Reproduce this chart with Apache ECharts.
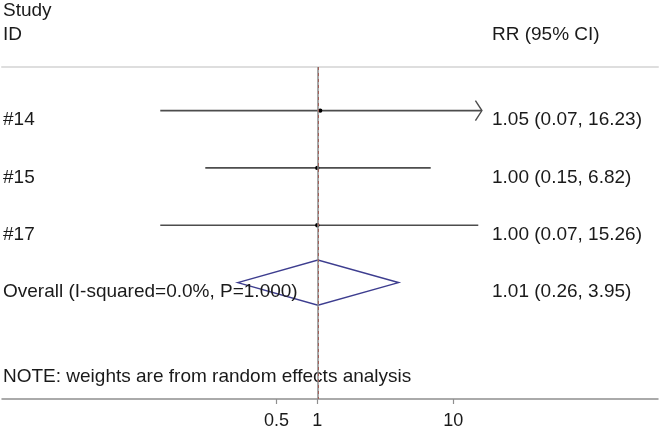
<!DOCTYPE html>
<html><head><meta charset="utf-8">
<script src="https://cdn.jsdelivr.net/npm/echarts@6/dist/echarts.min.js"></script>
<style>html,body{margin:0;padding:0;background:#fff}#c{width:660px;height:432px}</style>
</head><body><div id="c"></div>
<script>
// ---- data ----
const studyIds = ['#14', '#15', '#17'];
const rr = [1.05, 1.00, 1.00];
const ciLow = [0.07, 0.15, 0.07];
const ciHigh = [16.23, 6.82, 15.26];
const overallLabel = 'Overall (I-squared=0.0%, P=1.000)';
const overallRR = [1.01];
const overallLow = [0.26];
const overallHigh = [3.95];
const xTicks = [0.5, 1, 10];
const nullValue = 1;
const arrowLimit = 16;
const headerLeft = ['Study', 'ID'];
const headerRight = 'RR (95% CI)';
const note = 'NOTE: weights are from random effects analysis';

// ---- layout / style ----
const FONT = 'Liberation Sans, Arial, sans-serif';
const FS = 19;
const TXT = '#1a1a1a';
const LEFT_COL = 3, RIGHT_COL = 492, LABEL_DY = 9.5;
const fmt = v => v.toFixed(2);

const chart = echarts.init(document.getElementById('c'), null, {renderer: 'canvas'});

const studyRows = studyIds.map((id, i) => [i + 1, rr[i], ciLow[i], ciHigh[i]]);
const overallRow = [[studyIds.length + 1, overallRR[0], overallLow[0], overallHigh[0]]];
const labelRows = studyIds.map((id, i) => [i + 1, id, `${fmt(rr[i])} (${fmt(ciLow[i])}, ${fmt(ciHigh[i])})`])
  .concat([[studyIds.length + 1, overallLabel, `${fmt(overallRR[0])} (${fmt(overallLow[0])}, ${fmt(overallHigh[0])})`]]);

const xMin = 0.0048, xMax = 320;

chart.setOption({
  animation: false,
  grid: {left: 2, right: 2, top: 67, bottom: 33},
  xAxis: [{
    type: 'log', logBase: 10, min: xMin, max: xMax,
    axisLine: {show: true, lineStyle: {color: '#8f8f8f', width: 1.5}},
    axisTick: {show: true, customValues: xTicks, length: 5, lineStyle: {color: '#8f8f8f', width: 1.2}},
    axisLabel: {show: true, customValues: xTicks, margin: 13, fontFamily: FONT, fontSize: 18, color: TXT,
      formatter: v => String(+(+v).toPrecision(3))},
    splitLine: {show: false}, minorTick: {show: false}, minorSplitLine: {show: false}
  }, {
    type: 'log', logBase: 10, min: xMin, max: xMax, position: 'top',
    axisLine: {show: true, lineStyle: {color: '#dedede', width: 2}},
    axisTick: {show: false}, axisLabel: {show: false}, splitLine: {show: false}
  }],
  yAxis: {type: 'value', inverse: true, min: 0.24, max: 6.03, show: false},
  graphic: [
    {type: 'text', x: LEFT_COL, y: 11, style: {text: headerLeft[0], font: `${FS}px ${FONT}`, fill: TXT, verticalAlign: 'middle'}},
    {type: 'text', x: LEFT_COL, y: 35, style: {text: headerLeft[1], font: `${FS}px ${FONT}`, fill: TXT, verticalAlign: 'middle'}},
    {type: 'text', x: RIGHT_COL, y: 35, style: {text: headerRight, font: `${FS}px ${FONT}`, fill: TXT, verticalAlign: 'middle'}},
    {type: 'text', x: LEFT_COL, y: 377, style: {text: note, font: `${FS}px ${FONT}`, fill: TXT, verticalAlign: 'middle'}}
  ],
  series: [{
    type: 'custom', name: 'studies', data: studyRows,
    encode: {x: [1, 2, 3], y: 0},
    renderItem: (params, api) => {
      const row = api.value(0), est = api.value(1), lo = api.value(2), hi = api.value(3);
      const pLo = api.coord([lo, row]), pHi = api.coord([hi, row]), pE = api.coord([est, row]);
      const children = [{
        type: 'line', shape: {x1: pLo[0], y1: pLo[1], x2: pHi[0], y2: pHi[1]},
        style: {stroke: '#4d4d4d', lineWidth: 1.6}
      }];
      if (hi > arrowLimit) {
        children.push({type: 'polyline', shape: {points: [[pHi[0] - 6.5, pHi[1] - 10], [pHi[0], pHi[1]], [pHi[0] - 6.5, pHi[1] + 10]]},
          style: {stroke: '#4d4d4d', lineWidth: 1.4, fill: null}});
      }
      children.push({type: 'circle', shape: {cx: pE[0], cy: pE[1], r: 2.2}, style: {fill: '#000'}});
      return {type: 'group', children};
    },
    markLine: {silent: true, symbol: 'none', label: {show: false},
      lineStyle: {color: '#8a8a8a', width: 1.5, type: 'solid'}, data: [{xAxis: nullValue}]},
    z: 3
  }, {
    type: 'custom', name: 'overall', data: overallRow,
    encode: {x: [1, 2, 3], y: 0},
    renderItem: (params, api) => {
      const row = api.value(0), est = api.value(1), lo = api.value(2), hi = api.value(3);
      const c = api.coord([est, row]), l = api.coord([lo, row]), r = api.coord([hi, row]);
      const h = 22.5;
      return {type: 'polygon', shape: {points: [[l[0], c[1]], [c[0], c[1] - h], [r[0], c[1]], [c[0], c[1] + h]]},
        style: {stroke: '#3d3d8f', lineWidth: 1.5, fill: null}};
    },
    markLine: {silent: true, symbol: 'none', label: {show: false},
      lineStyle: {color: '#a0605a', width: 1, type: [3, 3]}, data: [{xAxis: overallRR[0]}]},
    z: 4
  }, {
    type: 'custom', name: 'labels', data: labelRows,
    encode: {y: 0},
    renderItem: (params, api) => {
      const row = api.value(0);
      const y = api.coord([1, row])[1] + LABEL_DY;
      const d = labelRows[params.dataIndex];
      return {type: 'group', children: [
        {type: 'text', x: LEFT_COL, y, style: {text: d[1], font: `${FS}px ${FONT}`, fill: TXT, verticalAlign: 'middle'}},
        {type: 'text', x: RIGHT_COL, y, style: {text: d[2], font: `${FS}px ${FONT}`, fill: TXT, verticalAlign: 'middle'}}
      ]};
    },
    z: 5
  }]
});
</script></body></html>
